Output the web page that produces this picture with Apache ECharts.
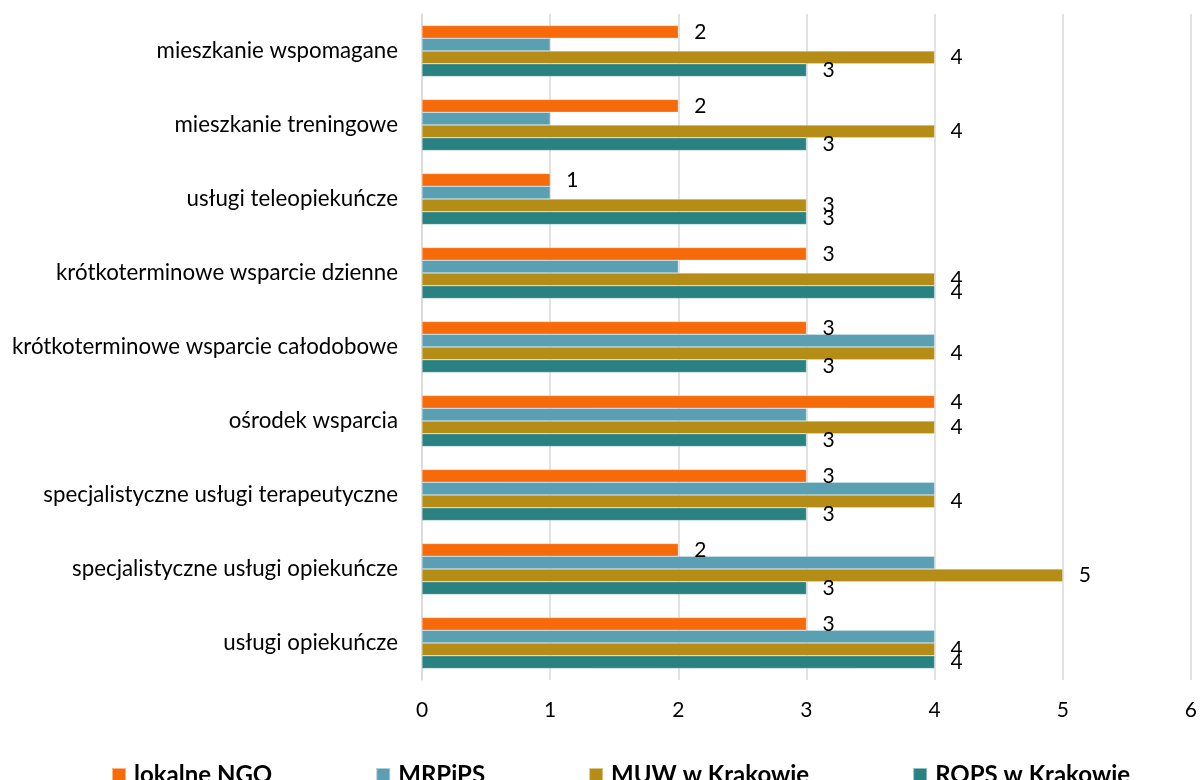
<!DOCTYPE html>
<html>
<head>
<meta charset="utf-8">
<script src="https://cdn.jsdelivr.net/npm/echarts@6/dist/echarts.min.js"></script>
<style>html,body{margin:0;padding:0;background:#fff}#c{width:1200px;height:780px}</style>
</head>
<body>
<div id="c"></div>
<script>
const categories = ['usługi opiekuńcze','specjalistyczne usługi opiekuńcze','specjalistyczne usługi terapeutyczne','ośrodek wsparcia','krótkoterminowe wsparcie całodobowe','krótkoterminowe wsparcie dzienne','usługi teleopiekuńcze','mieszkanie treningowe','mieszkanie wspomagane'];
const seriesNames = ['lokalne NGO','MRPiPS','MUW w Krakowie','ROPS w Krakowie'];
const ngo   = [3,2,3,4,3,3,1,2,2];
const mrpips= [4,4,4,3,4,2,1,1,1];
const muw   = [4,5,4,4,4,4,3,4,4];
const rops  = [4,3,3,3,3,4,3,3,3];
const xTicks = [0,1,2,3,4,5,6];
const colors = ['#F76A0A','#5BA0B2','#B58D16','#2A8182'];
const FONT = 'Lato, Carlito, "Open Sans", sans-serif';

const chart = echarts.init(document.getElementById('c'));
function mk(name, data, color, showLabel){
  return {
    name, type:'bar', data,
    itemStyle:{color, borderColor:'rgba(255,255,255,0.5)', borderWidth:0.5},
    barGap:'0%', barCategoryGap:'31%',
    label:{show:showLabel, position:'right', distance:16, color:'#000', fontFamily:FONT, fontSize:21},
    emphasis:{disabled:true}
  };
}
const allData = [ngo, mrpips, muw, rops];
const series = [];
for (let i = 0; i < 4; i++) series.push(mk(seriesNames[i], allData[i], colors[i], i !== 1));
chart.setOption({
  animation:false,
  textStyle:{fontFamily:FONT},
  grid:{left:422, right:7, top:14, bottom:100, containLabel:false},
  legend:{
    data:seriesNames, left:111, top:763, padding:0, itemWidth:14, itemHeight:14, itemGap:103, icon:'rect',
    textStyle:{fontFamily:FONT, fontWeight:'bold', fontSize:24, color:'#000', padding:[0,0,0,3]}
  },
  xAxis:{
    type:'value', min:xTicks[0], max:xTicks[xTicks.length-1], interval:1,
    axisLine:{show:false}, axisTick:{show:false},
    splitLine:{lineStyle:{color:'#d9d9d9', width:1.5}},
    axisLabel:{color:'#000', fontSize:21, fontFamily:FONT, margin:20}
  },
  yAxis:{
    type:'category', data:categories,
    axisLine:{show:true, lineStyle:{color:'#d9d9d9', width:1.5}},
    axisTick:{show:false},
    axisLabel:{color:'#000', fontSize:22.3, fontFamily:FONT, margin:24}
  },
  series
});
</script>
</body>
</html>
